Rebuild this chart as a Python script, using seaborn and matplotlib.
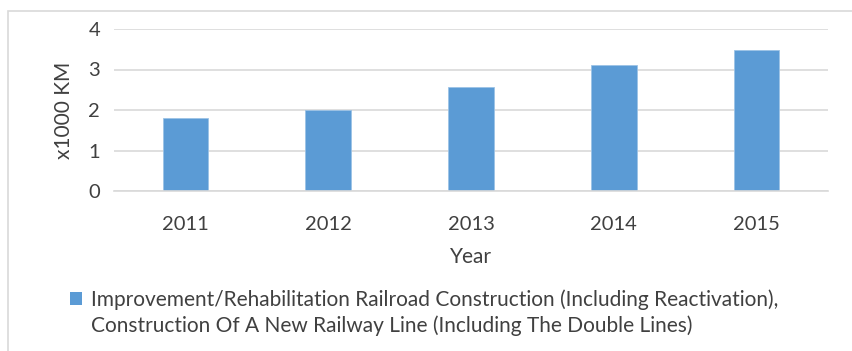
import matplotlib
matplotlib.use("Agg")
import matplotlib.pyplot as plt
import seaborn as sns
import pandas as pd
from matplotlib.patches import Rectangle, Patch

years = ["2011", "2012", "2013", "2014", "2015"]
values = [1.8, 2.0, 2.58, 3.1, 3.48]
series_label_lines = ["Improvement/Rehabilitation Railroad Construction (Including Reactivation),",
                      "Construction Of A New Railway Line (Including The Double Lines)"]
y_ticks = [0, 1, 2, 3, 4]

sns.set_theme(style="white")
plt.rcParams['font.family'] = ['Lato', 'DejaVu Sans']

bar_color = "#5B9BD5"
text_color = "#404040"

fig = plt.figure(figsize=(8.53, 3.51), dpi=100)
ax = fig.add_axes([114/853, 1-191/351, (828-114)/853, (191-29)/351])

df = pd.DataFrame({"Year": years, "Value": values})
sns.barplot(data=df, x="Year", y="Value", color=bar_color, width=0.32,
            saturation=1, ax=ax, edgecolor="#9cc3e6", linewidth=0.6)

ax.set_ylim(0, 4)
ax.set_xlim(-0.5, 4.5)
ax.set_yticks(y_ticks)
ax.yaxis.grid(True, color="#d9d9d9", linewidth=1.2)
ax.set_axisbelow(True)
for s in ["top", "right", "left"]:
    ax.spines[s].set_visible(False)
ax.spines["bottom"].set_color("#d9d9d9")
ax.spines["bottom"].set_linewidth(1.2)
ax.tick_params(axis="both", length=0, labelsize=14.5, labelcolor=text_color)
ax.tick_params(axis="x", pad=18)
ax.tick_params(axis="y", pad=10)
ax.set_xlabel("Year", fontsize=15, color=text_color, labelpad=10)
ax.set_ylabel("x1000 KM", fontsize=15, color=text_color, labelpad=10)

handle = Patch(facecolor=bar_color, edgecolor="none")
blank = Patch(facecolor="none", edgecolor="none")
fig.legend([handle, blank], series_label_lines, loc="upper left",
           bbox_to_anchor=(70/853, 1-289/351),
           frameon=False, fontsize=15, handlelength=0.6, handleheight=0.6,
           handletextpad=0.4, labelcolor=text_color, borderaxespad=0, borderpad=0,
           labelspacing=0.3)

fig.patches.append(Rectangle((8/853, -0.1), 1.0, 1-11/351+0.1, transform=fig.transFigure,
                             fill=False, edgecolor="#d9d9d9", linewidth=1.2))

fig.savefig("out.png", dpi=100)
